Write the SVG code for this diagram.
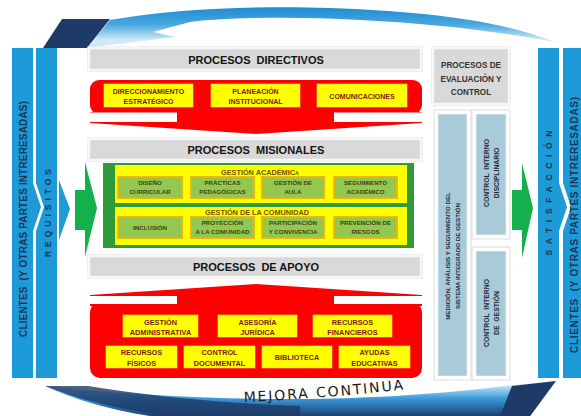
<svg xmlns="http://www.w3.org/2000/svg" width="581" height="416" viewBox="0 0 581 416">
<style>
.hd{fill:#d9d9d9;stroke:#f7f7f7;stroke-width:2.5}
.hdo{fill:none;stroke:#cfcfcf;stroke-width:0.8}
.ht{font-family:'Liberation Sans',Arial,sans-serif;font-weight:bold;font-size:11px;fill:#141414;text-anchor:middle}
.red{fill:#ff0000}
.yb{fill:#ffff00;stroke:#f2ef4a;stroke-width:0.6}
.rt{font-family:'Liberation Sans',Arial,sans-serif;font-weight:bold;font-size:7px;fill:#7e1a10;text-anchor:middle}
.at{font-family:'Liberation Sans',Arial,sans-serif;font-weight:bold;font-size:7.3px;fill:#7e1a10;text-anchor:middle}
.gb{fill:#92c850;stroke:#f2b200;stroke-width:1.8}
.gt{font-family:'Liberation Sans',Arial,sans-serif;font-weight:bold;font-size:6.2px;fill:#4a3c10;text-anchor:middle}
.gtt{font-family:'Liberation Sans',Arial,sans-serif;font-weight:bold;font-size:7.3px;fill:#6e5200;text-anchor:middle}
.bar{fill:#1c9bd8}
.bt{font-family:'Liberation Sans',Arial,sans-serif;font-weight:bold;fill:#1c3557;text-anchor:middle}
.arr{fill:#13b04b}
.lb{fill:#a9cad8;stroke:#ffffff;stroke-width:2.5}
.lbo{fill:none;stroke:#d4d4d4;stroke-width:0.8}
.lt{font-family:'Liberation Sans',Arial,sans-serif;font-weight:bold;fill:#1e2a33;text-anchor:middle}
.et{font-family:'Liberation Sans',Arial,sans-serif;font-weight:bold;font-size:8.2px;fill:#333333;text-anchor:middle}
</style>
<defs>
<linearGradient id="gTop" gradientUnits="userSpaceOnUse" x1="0" y1="6" x2="0" y2="40">
<stop offset="0" stop-color="#1a8ad0"/><stop offset="0.55" stop-color="#4aa8e0"/><stop offset="1" stop-color="#cfe9f7"/>
</linearGradient>
<linearGradient id="gBot" gradientUnits="userSpaceOnUse" x1="0" y1="384" x2="0" y2="416">
<stop offset="0" stop-color="#d2ecfa"/><stop offset="0.45" stop-color="#3a9ad9"/><stop offset="1" stop-color="#1b3f70"/>
</linearGradient>
<path id="mc" d="M 244,402 Q 330,398 418,388"/>
</defs>

<!-- mejora continua cycle -->
<g id="cycle">
<polygon points="43,48 62,19 110,19 87,48" fill="#1e3a66"/>
<path d="M87,48 L110,20 C180,8 260,6 330,8 C420,11 500,20 555,42 C500,32 440,24 360,20 C290,16 220,18 190,22 L153,32 L175,37 C140,41 110,45 87,48 Z" fill="url(#gTop)"/>
<path d="M45,386 C120,394 200,399 290,399 C380,399 460,392 522,384 L556,381 L530,416 L150,416 C110,410 70,398 45,386 Z" fill="url(#gBot)"/>
<path d="M45,386 L88,386 C150,396 220,403 300,406 L300,416 L170,416 C110,408 75,398 45,386 Z" fill="#1e3a66" opacity="0.8"/>
<polygon points="512,386 556,381 530,416 500,416" fill="#1e3a66"/>
<text font-family="'DejaVu Sans',sans-serif" font-size="14" letter-spacing="1.9" fill="#1a1a1a"><textPath href="#mc">MEJORA CONTINUA</textPath></text>
</g>

<!-- left bars -->
<g id="clientes-izq">
<path class="bar" d="M12,48 H33 V183 L41,207 L33,231 V378 H12 Z"/>
<text class="bt" font-size="10" transform="translate(23.5,219) rotate(-90)" y="3.6" textLength="236" lengthAdjust="spacing" xml:space="preserve">CLIENTES  (Y OTRAS PARTES INTRERESADAS)</text>
</g>
<g id="requisitos">
<path class="bar" d="M36,48 H57 V378 H36 V231 L44,207 L36,183 Z"/>
<polygon class="bar" points="59,180 70,209 59,240"/>
<text class="bt" font-size="8.5" transform="translate(48,213) rotate(-90)" y="3" textLength="88" lengthAdjust="spacing">REQUISITOS</text>
</g>

<!-- right bars -->
<g id="satisfaccion">
<path class="bar" d="M538,48 H559 V183 L567,207 L559,231 V378 H538 Z"/>
<text class="bt" font-size="8.5" transform="translate(548.5,193) rotate(-90)" y="3" textLength="125" lengthAdjust="spacing">SATISFACCIÓN</text>
</g>
<g id="clientes-der">
<path class="bar" d="M563,48 H581 V378 H563 V231 L571,207 L563,183 Z"/>
<text class="bt" font-size="10" transform="translate(574,225) rotate(-90)" y="3.6" textLength="256" lengthAdjust="spacing" xml:space="preserve">CLIENTES  (Y OTRAS PARTES INTRERESADAS)</text>
</g>

<!-- connectors (arrows) -->
<g id="connectors">
<polygon class="arr" points="75,190 85,190 85,162 97,208 85,257 85,230 75,230"/>
<polygon class="arr" points="512,190 522,190 522,163 533,208 522,258 522,230 512,230"/>
</g>

<!-- procesos directivos -->
<g id="procesos-directivos">
<rect class="hdo" x="88" y="47" width="334" height="24"/>
<rect class="hd" x="89" y="48" width="332" height="22"/>
<text class="ht" x="256" y="63.5" xml:space="preserve">PROCESOS  DIRECTIVOS</text>
<rect class="red" x="90" y="80" width="332" height="34" rx="9"/>
<polygon class="red" points="90,112 422,112 422,123 256,134 90,123"/>
<rect x="88" y="112.5" width="89" height="9.5" fill="#ffffff"/>
<rect x="334" y="112.5" width="89" height="9.5" fill="#ffffff"/>
</g>
<g id="direccionamiento">
<rect class="yb" x="104" y="84" width="89" height="23"/>
<text class="rt" x="148.5" y="93.5">DIRECCIONAMIENTO</text>
<text class="rt" x="148.5" y="103.5">ESTRATÉGICO</text>
</g>
<g id="planeacion">
<rect class="yb" x="211" y="84" width="89" height="23"/>
<text class="rt" x="255.5" y="93.5">PLANEACIÓN</text>
<text class="rt" x="255.5" y="103.5">INSTITUCIONAL</text>
</g>
<g id="comunicaciones">
<rect class="yb" x="317" y="84" width="90" height="23"/>
<text class="rt" x="362" y="98.5">COMUNICACIONES</text>
</g>

<!-- procesos misionales -->
<g id="procesos-misionales">
<rect class="hdo" x="88" y="138" width="334" height="23"/>
<rect class="hd" x="89" y="139" width="332" height="21"/>
<text class="ht" x="256" y="154" xml:space="preserve">PROCESOS  MISIONALES</text>
<rect x="103" y="163" width="311" height="85" fill="#2f9a3c"/>
<rect x="115" y="165" width="292" height="38" fill="#ffff00"/>
<rect x="115" y="207" width="292" height="38" fill="#ffff00"/>
<text class="gtt" x="260" y="174.6">GESTIÓN ACADÉMIC<tspan font-size="5.5">A</tspan></text>
<text class="gtt" x="257" y="214.6">GESTIÓN DE LA COMUNIDAD</text>
</g>
<g id="diseno-curricular">
<rect class="gb" x="118" y="177" width="64" height="21"/>
<text class="gt" x="150" y="185.2">DISEÑO</text>
<text class="gt" x="150" y="194.2">CURRICULAR</text>
</g>
<g id="practicas-pedagogicas">
<rect class="gb" x="191" y="177" width="63" height="21"/>
<text class="gt" x="222.5" y="185.2">PRÁCTICAS</text>
<text class="gt" x="222.5" y="194.2">PEDAGÓGICAS</text>
</g>
<g id="gestion-aula">
<rect class="gb" x="262" y="177" width="62" height="21"/>
<text class="gt" x="293" y="185.2">GESTIÓN DE</text>
<text class="gt" x="293" y="194.2">AULA</text>
</g>
<g id="seguimiento-academico">
<rect class="gb" x="334" y="177" width="63" height="21"/>
<text class="gt" x="365.5" y="185.2">SEGUIMIENTO</text>
<text class="gt" x="365.5" y="194.2">ACADÉMICO</text>
</g>
<g id="inclusion">
<rect class="gb" x="118" y="217" width="64" height="21"/>
<text class="gt" x="150" y="229.7">INCLUSIÓN</text>
</g>
<g id="proyeccion-comunidad">
<rect class="gb" x="191" y="217" width="63" height="21"/>
<text class="gt" x="222.5" y="225.3">PROYECCIÓN</text>
<text class="gt" x="222.5" y="234.3">A LA COMUNIDAD</text>
</g>
<g id="participacion-convivencia">
<rect class="gb" x="262" y="217" width="62" height="21"/>
<text class="gt" x="293" y="225.3">PARTICIPACIÓN</text>
<text class="gt" x="293" y="234.3">Y CONVIVENCIA</text>
</g>
<g id="prevencion-riesgos">
<rect class="gb" x="334" y="217" width="63" height="21"/>
<text class="gt" x="365.5" y="225.3">PREVENCIÓN DE</text>
<text class="gt" x="365.5" y="234.3">RIESGOS</text>
</g>

<!-- procesos de apoyo -->
<g id="procesos-apoyo">
<rect class="hdo" x="88" y="255" width="334" height="23"/>
<rect class="hd" x="89" y="256" width="332" height="21"/>
<text class="ht" x="256" y="271" xml:space="preserve">PROCESOS  DE APOYO</text>
<polygon class="red" points="90,295 256,284 422,295 422,306 90,306"/>
<rect class="red" x="90" y="302" width="332" height="76" rx="10"/>
<rect x="88" y="296" width="89" height="8" fill="#ffffff"/>
<rect x="334" y="296" width="89" height="8" fill="#ffffff"/>
</g>
<g id="gestion-administrativa">
<rect class="yb" x="123" y="315" width="75" height="22"/>
<text class="at" x="160.5" y="324.6">GESTIÓN</text>
<text class="at" x="160.5" y="335.4">ADMINISTRATIVA</text>
</g>
<g id="asesoria-juridica">
<rect class="yb" x="218" y="315" width="79" height="22"/>
<text class="at" x="257.5" y="324.6">ASESORÍA</text>
<text class="at" x="257.5" y="335.4">JURÍDICA</text>
</g>
<g id="recursos-financieros">
<rect class="yb" x="313" y="315" width="79" height="22"/>
<text class="at" x="352.5" y="324.6">RECURSOS</text>
<text class="at" x="352.5" y="335.4">FINANCIEROS</text>
</g>
<g id="recursos-fisicos">
<rect class="yb" x="106" y="346" width="71" height="22"/>
<text class="at" x="141.5" y="355.1">RECURSOS</text>
<text class="at" x="141.5" y="366">FÍSICOS</text>
</g>
<g id="control-documental">
<rect class="yb" x="184" y="346" width="71" height="22"/>
<text class="at" x="219.5" y="355.1">CONTROL</text>
<text class="at" x="219.5" y="366">DOCUMENTAL</text>
</g>
<g id="biblioteca">
<rect class="yb" x="262" y="346" width="70" height="22"/>
<text class="at" x="297" y="359.6">BIBLIOTECA</text>
</g>
<g id="ayudas-educativas">
<rect class="yb" x="339" y="346" width="71" height="22"/>
<text class="at" x="374.5" y="355.1">AYUDAS</text>
<text class="at" x="374.5" y="366">EDUCATIVAS</text>
</g>

<!-- evaluacion y control -->
<g id="procesos-evaluacion">
<rect class="hdo" x="432" y="47" width="78" height="58"/>
<rect class="hd" x="433" y="48" width="76" height="56"/>
<text class="et" x="471" y="68">PROCESOS  DE</text>
<text class="et" x="471" y="81.5">EVALUACIÓN Y</text>
<text class="et" x="471" y="94.5">CONTROL</text>
</g>
<g id="medicion-analisis">
<rect class="lbo" x="434" y="110" width="37" height="270"/>
<rect class="lb" x="437" y="113" width="31" height="264"/>
<text class="lt" font-size="6.2" transform="translate(452.5,256) rotate(-90)"><tspan x="0" y="-2.3">MEDICIÓN, ANÁLISIS Y SEGUIMIENTO DEL</tspan><tspan x="0" y="7.7">SISTEMA INTEGRADO DE GESTIÓN</tspan></text>
</g>
<g id="control-disciplinario">
<rect class="lbo" x="472" y="110" width="38" height="129"/>
<rect class="lb" x="475" y="113" width="32" height="123"/>
<text class="lt" font-size="6.8" transform="translate(491,173) rotate(-90)" xml:space="preserve"><tspan x="0" y="-2.5">CONTROL  INTERNO</tspan><tspan x="0" y="7.5">DISCIPLINARIO</tspan></text>
</g>
<g id="control-gestion">
<rect class="lbo" x="472" y="247" width="38" height="133"/>
<rect class="lb" x="475" y="250" width="32" height="127"/>
<text class="lt" font-size="6.8" transform="translate(491,313) rotate(-90)" xml:space="preserve"><tspan x="0" y="-2.5">CONTROL  INTERNO</tspan><tspan x="0" y="7.5">DE  GESTIÓN</tspan></text>
</g>
</svg>
